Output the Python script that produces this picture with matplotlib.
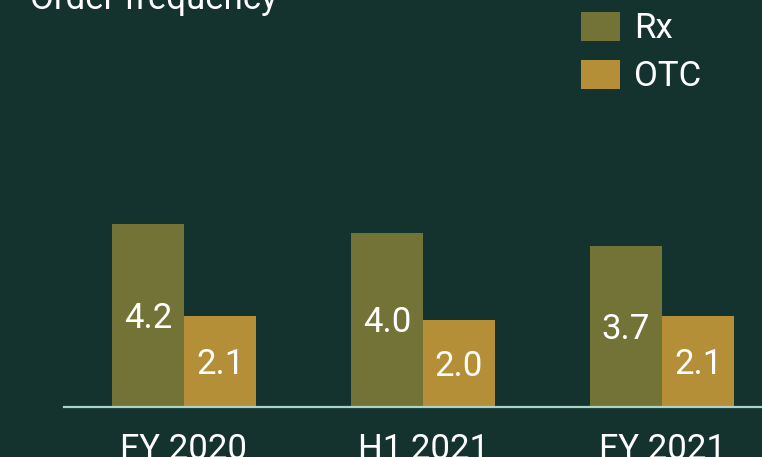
import numpy as np
import matplotlib
matplotlib.use("Agg")
import matplotlib.pyplot as plt

# data
categories = ["FY 2020", "H1 2021", "FY 2021"]
rx = [4.2, 4.0, 3.7]
otc = [2.1, 2.0, 2.1]
series_names = ["Rx", "OTC"]

BG = "#15332e"
RX_COLOR = "#737237"
OTC_COLOR = "#b58f37"
LINE_COLOR = "#a8d5c8"
FS = 25

plt.rcParams["font.family"] = ["Roboto", "DejaVu Sans"]

W, H = 762, 457
fig = plt.figure(figsize=(W / 100, H / 100), dpi=100, facecolor=BG)

# axes: baseline at y=407px, left edge at x=64px, right at figure edge
ax = fig.add_axes([64 / W, 50 / H, (W - 64) / W, 407 / H])
ax.set_facecolor(BG)

x = np.arange(len(categories))
width = 72 / 239
ax.bar(x - width / 2, rx, width, color=RX_COLOR, label=series_names[0])
ax.bar(x + width / 2, otc, width, color=OTC_COLOR, label=series_names[1])

# value labels centred on the digits' cap height
cap_off = -0.711 * FS / 2
for xs, vals in ((x - width / 2, rx), (x + width / 2, otc)):
    for xi, v in zip(xs, vals):
        ax.annotate(f"{v:.1f}", (xi, v / 2), xytext=(0, cap_off),
                    textcoords="offset points", ha="center", va="baseline",
                    color="white", fontsize=FS)

ax.set_xlim(-120 / 239, 2 + 100 / 239)
ax.set_ylim(0, 407 / 43.5)

for s in ["top", "right", "left"]:
    ax.spines[s].set_visible(False)
ax.spines["bottom"].set_color(LINE_COLOR)
ax.spines["bottom"].set_linewidth(1.6)
ax.set_yticks([])
ax.set_xticks(x)
ax.set_xticklabels(categories, fontsize=FS, color="white")
ax.tick_params(axis="x", length=0, pad=19)

leg = ax.legend(loc="upper left", bbox_to_anchor=(581 / W, 1 - 12 / H),
                bbox_transform=fig.transFigure, frameon=False,
                fontsize=FS, handlelength=1.12, handleheight=0.89,
                labelspacing=0.43, handletextpad=0.40, borderpad=0.0,
                borderaxespad=0.0)
for t in leg.get_texts():
    t.set_color("white")

fig.text(30 / W, 1 - 9 / H, "Order frequency", ha="left", va="baseline",
         color="white", fontsize=FS)

fig.savefig("out.png", dpi=100, facecolor=BG)
